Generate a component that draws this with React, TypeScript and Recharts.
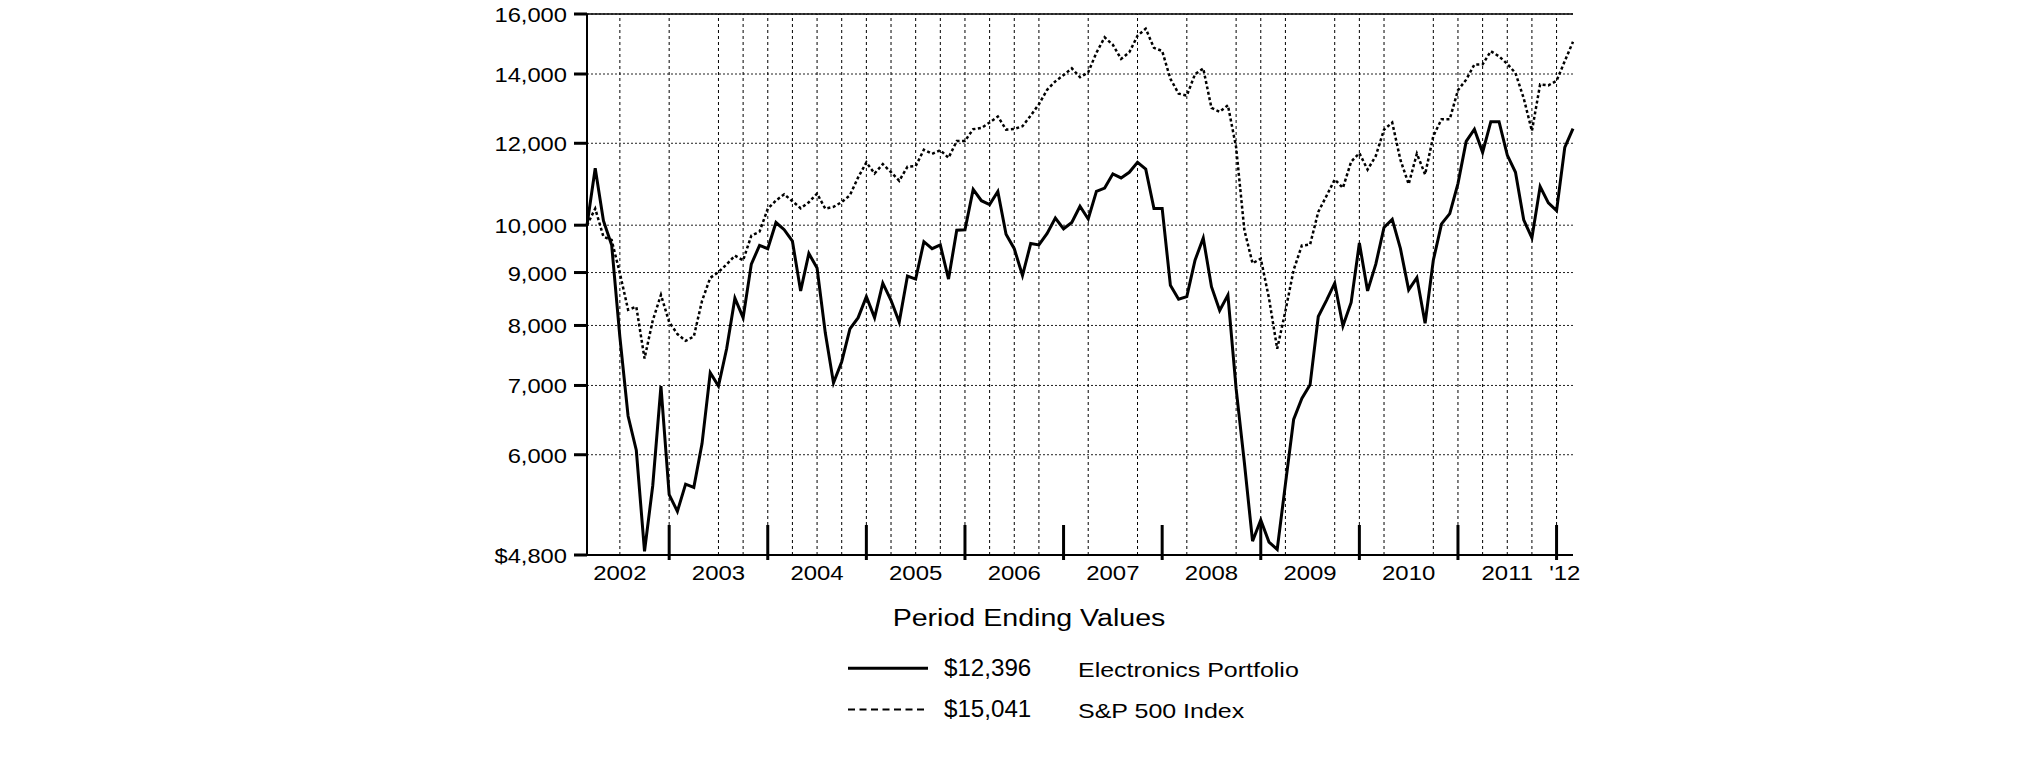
import React from "react";
import {
  LineChart,
  Line,
  XAxis,
  YAxis,
  CartesianGrid,
  ReferenceLine,
  Legend,
} from "recharts";

// month index 0 = end of Feb 2002 ... 120 = end of Feb 2012
const electronics = [
  10000, 11350, 10100, 9570, 7800, 6540, 6060, 4840, 5600, 6990,
  5490, 5290, 5620, 5580, 6150, 7200, 6990, 7600, 8500, 8140,
  9170, 9560, 9490, 10060, 9900, 9650, 8640, 9390, 9090, 7870,
  7040, 7380, 7940, 8140, 8530, 8140, 8790, 8460, 8060, 8930,
  8870, 9640, 9490, 9570, 8870, 9890, 9900, 10830, 10560, 10470,
  10780, 9800, 9490, 8940, 9600, 9570, 9820, 10160, 9920, 10060,
  10430, 10140, 10780, 10860, 11210, 11110, 11250, 11500, 11330, 10380,
  10380, 8750, 8480, 8530, 9250, 9720, 8720, 8270, 8560, 6950,
  5900, 4950, 5190, 4940, 4860, 5620, 6490, 6800, 7010, 8160,
  8460, 8790, 7990, 8420, 9610, 8640, 9170, 9950, 10130, 9490,
  8660, 8900, 8040, 9250, 10030, 10260, 10970, 12050, 12380, 11760,
  12590, 12590, 11690, 11250, 10120, 9720, 10900, 10510, 10330, 11890,
  12396,
];

const sp500 = [
  10000, 10376, 9747, 9675, 8986, 8285, 8340, 7433, 8088, 8564,
  8060, 7849, 7731, 7806, 8450, 8895, 9009, 9167, 9346, 9247,
  9771, 9857, 10373, 10564, 10711, 10549, 10383, 10525, 10729, 10374,
  10416, 10528, 10689, 11122, 11500, 11219, 11455, 11252, 11038, 11389,
  11405, 11829, 11721, 11816, 11619, 12058, 12062, 12382, 12415, 12569,
  12738, 12371, 12388, 12465, 12761, 13090, 13517, 13774, 13967, 14178,
  13900, 14056, 14679, 15191, 14939, 14476, 14693, 15243, 15485, 14838,
  14736, 13852, 13402, 13344, 13994, 14176, 12981, 12872, 13059, 11895,
  9897, 9186, 9284, 8501, 7596, 8261, 9052, 9558, 9577, 10301,
  10673, 11071, 10865, 11517, 11739, 11316, 11667, 12370, 12566, 11562,
  10957, 11725, 11196, 12195, 12658, 12659, 13505, 13825, 14299, 14305,
  14728, 14561, 14318, 14028, 13266, 12333, 13681, 13651, 13790, 14408,
  15041,
];

const yTicks = [4800, 6000, 7000, 8000, 9000, 10000, 12000, 14000, 16000];
const yearEnds = [10, 22, 34, 46, 58, 70, 82, 94, 106, 118];
const yearLabelAt = [4, 16, 28, 40, 52, 64, 76, 88, 100, 112, 119];
const yearLabels = [
  "2002", "2003", "2004", "2005", "2006", "2007",
  "2008", "2009", "2010", "2011", "'12",
];
// dotted vertical grid positions (month index)
const gridMonths = [
  4, 10, 16, 19, 22, 25, 28, 31, 34, 37, 40, 43, 46, 49, 52, 55,
  61, 67, 73, 79, 82, 85, 91, 94, 97, 103, 106, 109, 112, 115, 118,
];

const rows = electronics.map((v, i) => ({ i, electronics: v, sp500: sp500[i] }));

const FONT = "'Liberation Sans', Arial, sans-serif";
const W = 2009;
const H = 753;

const fmt = (v: number) => v.toLocaleString("en-US");

const YTick = (props: any) => {
  const { x, y, payload } = props;
  const v = payload.value;
  const label = v === 4800 ? "$" + fmt(v) : fmt(v);
  return (
    <text
      transform={`translate(${x},${y + 8}) scale(1.13,1)`}
      textAnchor="end"
      fontSize={21}
      fontFamily={FONT}
      fill="#000"
    >
      {label}
    </text>
  );
};

const XTick = (props: any) => {
  const { x, y, payload } = props;
  const v = payload.value;
  if (yearEnds.includes(v)) {
    return <line x1={x} x2={x} y1={y - 30} y2={y + 5} stroke="#000" strokeWidth={3} />;
  }
  const k = yearLabelAt.indexOf(v);
  return (
    <text
      transform={`translate(${x},${y + 25}) scale(1.14,1)`}
      textAnchor="middle"
      fontSize={21}
      fontFamily={FONT}
      fill="#000"
    >
      {yearLabels[k]}
    </text>
  );
};

const series = [
  { name: "Electronics Portfolio", last: electronics[electronics.length - 1], dash: undefined, width: 3 },
  { name: "S&P 500 Index", last: sp500[sp500.length - 1], dash: "7 4.5", width: 2 },
];

const LegendBox = () => (
  <svg width={W} height={H} style={{ display: "block" }}>
    <text
      transform="translate(1021,626) scale(1.167,1)"
      textAnchor="middle"
      fontSize={24.5}
      fontFamily={FONT}
      fill="#000"
    >
      Period Ending Values
    </text>
    {series.map((s, k) => {
      const base = 676 + k * 41.3;
      return (
        <g key={s.name}>
          <line
            x1={840}
            x2={920}
            y1={base - 7.7}
            y2={base - 7.7}
            stroke="#000"
            strokeWidth={s.width}
            strokeDasharray={s.dash}
          />
          <text
            transform={`translate(936,${base}) scale(1.05,1)`}
            fontSize={23}
            fontFamily={FONT}
            fill="#000"
          >
            {"$" + fmt(s.last)}
          </text>
          <text
            transform={`translate(1070,${base + 1}) scale(1.19,1)`}
            fontSize={21}
            fontFamily={FONT}
            fill="#000"
          >
            {s.name}
          </text>
        </g>
      );
    })}
  </svg>
);

export default function App() {
  return (
    <div style={{ marginTop: -8 }}>
      <LineChart
        width={W}
        height={H}
        data={rows}
        margin={{ top: 14, right: 444, bottom: 168, left: 0 }}
      >
        <CartesianGrid vertical={false} stroke="#222" strokeDasharray="2 2" />
        {gridMonths.map((m) => (
          <ReferenceLine key={m} x={m} stroke="#000" strokeDasharray="3 3" strokeWidth={1} />
        ))}
        <ReferenceLine y={16000} stroke="#000" strokeWidth={1.5} />
        <XAxis
          dataKey="i"
          type="number"
          domain={[0, 120]}
          ticks={[...yearLabelAt, ...yearEnds].sort((a, b) => a - b)}
          interval={0}
          tick={XTick}
          tickLine={false}
          tickSize={0}
          tickMargin={0}
          height={30}
          axisLine={{ stroke: "#000", strokeWidth: 2 }}
        />
        <YAxis
          scale="log"
          domain={[4800, 16000]}
          allowDataOverflow
          ticks={yTicks}
          interval={0}
          width={579}
          tick={YTick}
          tickSize={13}
          tickMargin={7}
          tickLine={{ stroke: "#000", strokeWidth: 3 }}
          axisLine={{ stroke: "#000", strokeWidth: 2 }}
        />
        <Line
          type="linear"
          dataKey="sp500"
          stroke="#000"
          strokeWidth={2.5}
          strokeDasharray="3 2.5"
          dot={false}
          isAnimationActive={false}
        />
        <Line
          type="linear"
          dataKey="electronics"
          stroke="#000"
          strokeWidth={3}
          dot={false}
          isAnimationActive={false}
        />
        <Legend
          verticalAlign="middle"
          align="center"
          layout="horizontal"
          wrapperStyle={{ left: 0, top: 0, width: W, height: H, pointerEvents: "none" }}
          content={LegendBox}
        />
      </LineChart>
    </div>
  );
}
